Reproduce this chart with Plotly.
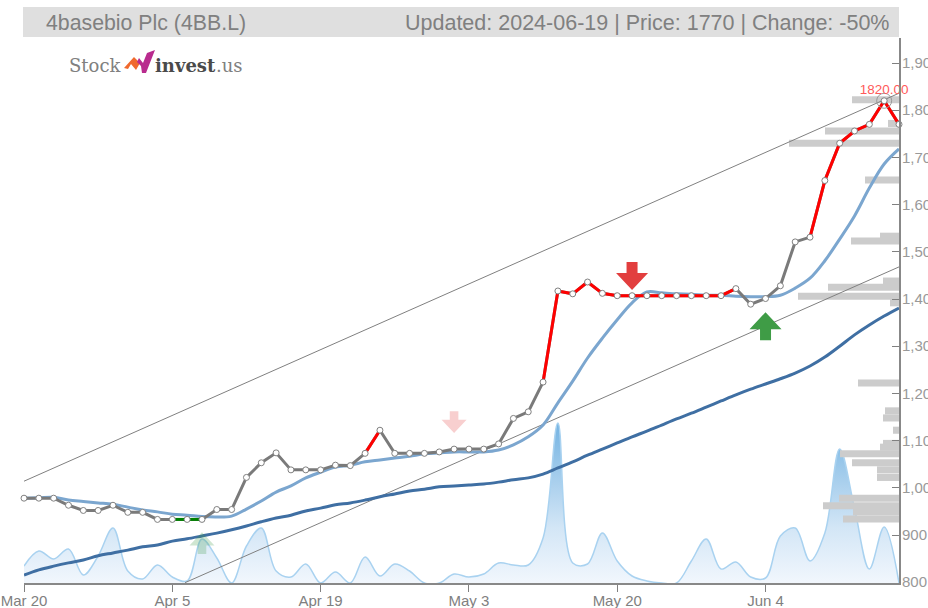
import plotly.graph_objects as go

W, H = 928, 608
ML, MR, MT, MB = 24, 29, 38, 25
PW, PH = W - ML - MR, H - MT - MB

tick_idx = [0, 10, 20, 30, 40, 50]
tick_lab = ["Mar 20", "Apr 5", "Apr 19", "May 3", "May 20", "Jun 4"]
price_ticks = [800, 900, 1000, 1100, 1200, 1300, 1400, 1500, 1600, 1700, 1800, 1900]

price = [978, 978, 978, 963, 952, 952, 963, 948, 948, 933, 933, 933, 933, 954, 954,
         1022, 1053, 1074, 1038, 1038, 1038, 1048, 1047, 1073, 1122, 1073, 1073, 1073, 1076, 1082,
         1082, 1082, 1093, 1147, 1161, 1224, 1417, 1411, 1436, 1412, 1407, 1407, 1407, 1407, 1407,
         1407, 1407, 1407, 1422, 1389, 1401, 1428, 1521, 1531, 1651, 1730, 1756, 1770, 1820, 1770]
ma_short = [978, 979, 980, 974, 971, 968, 965, 959, 953, 949, 944, 942, 939, 938, 940,
            955, 972, 991, 1004, 1021, 1033, 1044, 1048, 1055, 1059, 1063, 1067, 1072, 1074, 1076,
            1076, 1076, 1080, 1091, 1108, 1133, 1180, 1226, 1275, 1317, 1356, 1392, 1415, 1413, 1411,
            1410, 1408, 1408, 1406, 1405, 1405, 1408, 1423, 1444, 1481, 1527, 1576, 1635, 1686, 1718]
ma_long = [815, 826, 834, 841, 847, 856, 862, 868, 875, 879, 887, 892, 898, 904, 911,
           919, 928, 936, 942, 951, 957, 964, 968, 974, 981, 987, 993, 997, 1002, 1004,
           1006, 1008, 1012, 1017, 1021, 1029, 1042, 1055, 1069, 1082, 1095, 1108, 1120, 1133, 1146,
           1158, 1171, 1184, 1197, 1209, 1220, 1231, 1243, 1258, 1277, 1300, 1324, 1345, 1364, 1381]
volume = [17, 32, 24, 34, 8, 27, 55, 12, 4, 18, 6, 2, 44, 25, 0,
          37, 55, 12, 6, 19, 0, 11, 0, 26, 7, 19, 12, 0, 0, 9,
          6, 9, 20, 18, 18, 45, 160, 20, 19, 50, 22, 7, 2, 0, 0,
          22, 44, 14, 21, 6, 5, 47, 55, 22, 50, 134, 75, 14, 56, 0]
vbp_price = [1822, 1772, 1756, 1730, 1652, 1533, 1523, 1438, 1425, 1406, 1392, 1222, 1163, 1148,
             1122, 1094, 1086, 1072, 1053, 1038, 1022, 978, 962, 949, 934]
vbp_size = [47, 11, 74, 110, 34, 19, 48, 16, 71, 101, 9, 41, 14, 16,
            6, 16, 19, 59, 47, 22, 22, 60, 76, 46, 56]
up_channel_x, up_channel_y = [0, 59], [1014, 1836]
low_channel_x, low_channel_y = [10.86, 59], [799, 1468]
red_segments = [(23, 24), (35, 48), (53, 59)]
green_segments = [(10, 12)]
GREY, RED, GREEN = "#7a7a7a", "#ff0000", "#008000"

fig = go.Figure()
idx = list(range(len(price)))

# volume area
fig.add_trace(go.Scatter(x=idx, y=volume, xaxis="x", yaxis="y", mode="lines",
                         line=dict(color="#a9d2f0", width=1.5, shape="spline", smoothing=1.0),
                         fill="tozeroy",
                         fillgradient=dict(type="vertical",
                                           colorscale=[[0, "#f2f7fd"], [0.35, "#d3e6f6"], [1, "#74b3e2"]]),
                         hoverinfo="skip"))
# volume by price
fig.add_trace(go.Bar(x=vbp_size, y=vbp_price, orientation="h", width=15, xaxis="x2", yaxis="y2",
                     marker=dict(color="#cccccc", line=dict(width=0)), hoverinfo="skip"))
# channels
for xs, ys in ((up_channel_x, up_channel_y), (low_channel_x, low_channel_y)):
    fig.add_trace(go.Scatter(x=xs, y=ys, xaxis="x3", yaxis="y3", mode="lines",
                             line=dict(color="#808080", width=1), cliponaxis=False))
# moving averages
fig.add_trace(go.Scatter(x=idx, y=ma_long, xaxis="x3", yaxis="y3", mode="lines",
                         line=dict(color="#3f6fa3", width=3, shape="spline", smoothing=1.0)))
fig.add_trace(go.Scatter(x=idx, y=ma_short, xaxis="x3", yaxis="y3", mode="lines",
                         line=dict(color="#7ba6cf", width=3, shape="spline", smoothing=1.0), cliponaxis=False))
# price
fig.add_trace(go.Scatter(x=idx, y=price, xaxis="x3", yaxis="y3", mode="lines",
                         line=dict(color=GREY, width=3), cliponaxis=False))


def seg_trace(segs, color):
    xs, ys = [], []
    for a, b in segs:
        for i in range(a, b + 1):
            xs.append(i)
            ys.append(price[i])
        xs.append(None)
        ys.append(None)
    return go.Scatter(x=xs, y=ys, xaxis="x3", yaxis="y3", mode="lines",
                      line=dict(color=color, width=3), cliponaxis=False)


fig.add_trace(seg_trace(red_segments, RED))
fig.add_trace(seg_trace(green_segments, GREEN))
fig.add_trace(go.Scatter(x=idx, y=price, xaxis="x3", yaxis="y3", mode="markers", cliponaxis=False,
                         marker=dict(size=6, color="white", line=dict(color="#808080", width=1))))
# peak
peak = price.index(max(price))
fig.add_trace(go.Scatter(x=[peak], y=[price[peak]], xaxis="x3", yaxis="y3", mode="markers",
                         cliponaxis=False,
                         marker=dict(size=15, color="rgba(0,0,0,0)", line=dict(color="#999999", width=1))))
fig.add_trace(go.Scatter(x=[peak], y=[price[peak]], xaxis="x3", yaxis="y3", mode="markers+text",
                         cliponaxis=False, text=[f"{price[peak]:.2f}"], textposition="top center",
                         textfont=dict(family="Liberation Sans", size=13.5, color="#ff5a5a"),
                         marker=dict(size=4, color="rgba(0,0,0,0)")))


def px(x):
    return (x - ML) / PW


def py(y):
    return 1 - (y - MT) / PH


shapes = []
annots = []
# header band
shapes.append(dict(type="rect", xref="paper", yref="paper", x0=px(23), x1=px(899), y0=py(37), y1=py(7),
                   fillcolor="#dfdfdf", line=dict(width=0), layer="below"))
annots.append(dict(xref="paper", yref="paper", x=px(44), y=py(23), xanchor="left", yanchor="middle", showarrow=False,
                   text="4basebio Plc (4BB.L)", font=dict(family="Liberation Sans", size=21.3, color="#808080")))
annots.append(dict(xref="paper", yref="paper", x=px(892), y=py(23), xanchor="right", yanchor="middle", showarrow=False,
                   text="Updated: 2024-06-19 | Price: 1770 | Change: -50%",
                   font=dict(family="Liberation Sans", size=21.5, color="#808080")))
# logo
annots.append(dict(xref="paper", yref="paper", x=px(67), y=py(65), xanchor="left", yanchor="middle", showarrow=False,
                   text="Stock", font=dict(family="DejaVu Serif", size=18, color="#808080")))
annots.append(dict(xref="paper", yref="paper", x=px(153), y=py(65), xanchor="left", yanchor="middle", showarrow=False,
                   text="<b>invest</b>", font=dict(family="DejaVu Serif", size=18, color="#4a4a4a")))
annots.append(dict(xref="paper", yref="paper", x=px(214), y=py(65), xanchor="left", yanchor="middle", showarrow=False,
                   text=".us", font=dict(family="DejaVu Serif", size=18, color="#808080")))


def poly(points, color):
    d = "M " + " L ".join(f"{px(a):.5f},{py(b):.5f}" for a, b in points) + " Z"
    return dict(type="path", xref="paper", yref="paper", path=d, fillcolor=color, line=dict(width=0), layer="above")


shapes.append(poly([(124, 68), (134, 57), (140, 63), (136, 70), (131, 64), (128, 69)], "#f0692e"))
shapes.append(poly([(137, 62), (141, 66), (142, 73), (146, 73), (155, 50), (147, 53), (143, 63), (139, 58)], "#b92b8e"))


# signal arrows: (bar index, price, colour, direction, scale)
arrows = [(12, 906, "rgba(63,156,70,0.25)", 1, 0.78), (29, 1116, "rgba(226,62,62,0.25)", -1, 0.78),
          (41, 1419, "#e23e3e", -1, 1), (50, 1372, "#3f9c46", 1, 1)]
for i, val, col, d, k in arrows:
    pts = [(0, 0), (16, -17), (5.5, -17), (5.5, -28), (-5.5, -28), (-5.5, -17), (-16, -17)]
    path = "M " + " L ".join(f"{a * k:.1f},{d * b * k:.1f}" for a, b in pts) + " Z"
    shapes.append(dict(type="path", xsizemode="pixel", ysizemode="pixel", xref="x3", yref="y3",
                       xanchor=i, yanchor=val, path=path, fillcolor=col, line=dict(width=0), layer="above"))

YR = [798.3, 1953]
fig.update_layout(
    width=W, height=H, margin=dict(l=ML, r=MR, t=MT, b=MB), paper_bgcolor="white", plot_bgcolor="white",
    showlegend=False, hovermode=False, shapes=shapes, annotations=annots,
    xaxis=dict(range=[0, 59], tickmode="array", tickvals=tick_idx, ticktext=tick_lab, ticks="outside", ticklen=7,
               tickwidth=1, tickcolor="#808080", showgrid=False, zeroline=False, showline=True, linecolor="#888888",
               linewidth=2, automargin=False, ticklabelstandoff=-4,
               tickfont=dict(family="Liberation Sans", size=15, color="#808080")),
    yaxis=dict(range=[0, PH], visible=False, automargin=False),
    xaxis2=dict(range=[PW, 0], overlaying="x", visible=False, automargin=False),
    yaxis2=dict(range=YR, overlaying="y", visible=False, automargin=False),
    xaxis3=dict(range=[0, 59], overlaying="x", visible=False, automargin=False),
    yaxis3=dict(range=YR, overlaying="y", anchor="x3", side="right", tickmode="array", tickvals=price_ticks,
                tickformat=",", ticks="inside", ticklen=7, tickwidth=1, tickcolor="#808080", showgrid=False,
                zeroline=False, showline=True, linecolor="#888888", linewidth=2, automargin=False,
                ticklabelstandoff=-2,
                tickfont=dict(family="Liberation Sans", size=15, color="#999999")),
)
fig.write_html("out.html", config=dict(displayModeBar=False),
               post_script="document.body.style.margin='0';document.body.style.overflow='hidden';")
